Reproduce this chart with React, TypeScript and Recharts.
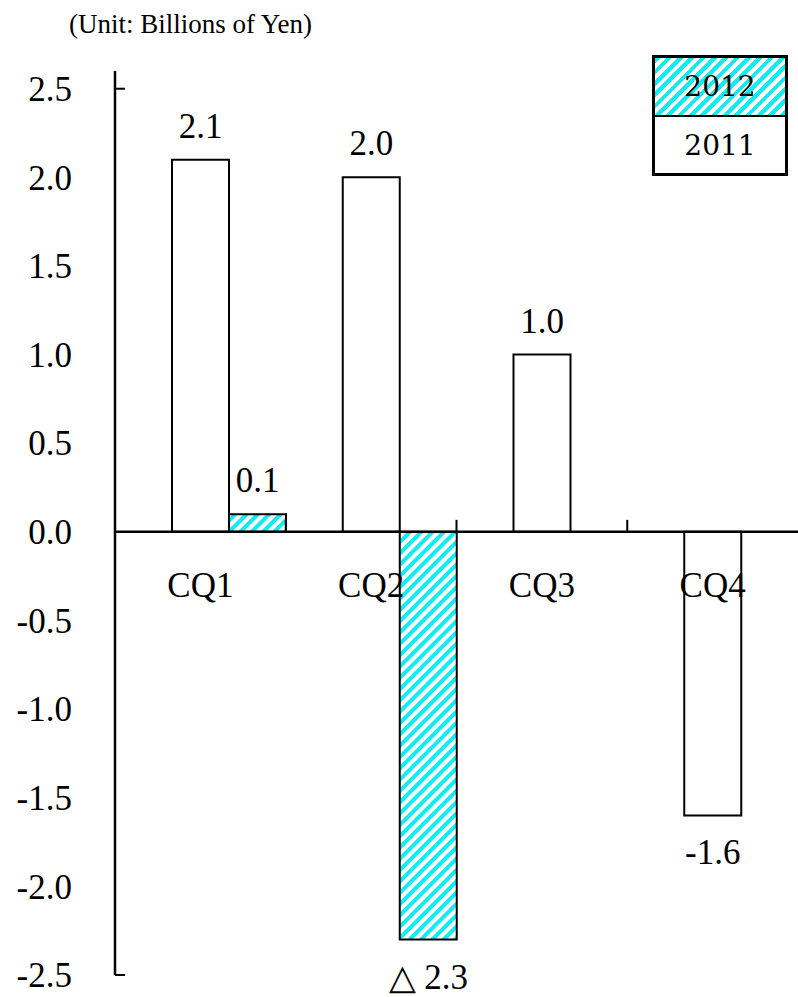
import { BarChart, Bar, XAxis, YAxis, ReferenceLine, LabelList } from 'recharts';

const categories = ['CQ1', 'CQ2', 'CQ3', 'CQ4'];
const values2011 = [2.1, 2.0, 1.0, -1.6];
const values2012: (number | null)[] = [0.1, -2.3, null, null];
const yTicks = [-2.5, -2.0, -1.5, -1.0, -0.5, 0.0, 0.5, 1.0, 1.5, 2.0, 2.5];

const data = categories.map((name, i) => ({
  name,
  y2011: values2011[i],
  y2012: values2012[i],
}));

const WIDTH = 798;
const HEIGHT = 997;
const TOP = 71;
const BOTTOM = 21;
const X_AXIS_H = 1;
const AXIS_W = 115;
const Y_MIN = -2.5;
const Y_MAX = 2.6;
// where the zero line sits, used to hang category labels under it
const ZERO_Y = TOP + ((HEIGHT - TOP - BOTTOM - X_AXIS_H) * Y_MAX) / (Y_MAX - Y_MIN);

const SERIF = '"Liberation Serif", "Times New Roman", serif';
const CYAN = '#10ecf4';
const Y_MARGIN = 43;

function YTick(props: any) {
  const { x, y, payload } = props;
  const v = Number(payload.value);
  const end = Math.abs(v) === 2.5;
  return (
    <g>
      <text x={x} y={y} dy="0.35em" textAnchor="end" fontFamily={SERIF} fontSize={35} fill="#000">
        {v.toFixed(1)}
      </text>
      {end && (
        <line x1={x + Y_MARGIN} x2={x + Y_MARGIN + 10} y1={y} y2={y} stroke="#000" strokeWidth={2} />
      )}
    </g>
  );
}

function XTick(props: any) {
  const { x, payload, index } = props;
  const half = payload.offset ?? (WIDTH - AXIS_W) / categories.length / 2;
  return (
    <g>
      <text x={x} y={ZERO_Y + 65} textAnchor="middle" fontFamily={SERIF} fontSize={35} fill="#000">
        {payload.value}
      </text>
      {index < categories.length - 1 && (
        <line x1={x + half} x2={x + half} y1={ZERO_Y - 12} y2={ZERO_Y} stroke="#000" strokeWidth={2} />
      )}
    </g>
  );
}

// value labels: above positive bars, below negative ones
const makeLabel = (negPrefix: string) => (props: any) => {
  const { x, y, width, height, value } = props;
  if (value == null) return null;
  const top = Math.min(y, y + height);
  const bottom = Math.max(y, y + height);
  const v = Number(value);
  const text = v < 0 ? negPrefix + Math.abs(v).toFixed(1) : v.toFixed(1);
  return (
    <text
      x={x + width / 2}
      y={v < 0 ? bottom + 49 : top - 22}
      textAnchor="middle"
      fontFamily={SERIF}
      fontSize={35}
      fill="#000"
    >
      {text}
    </text>
  );
};

function LegendBox() {
  const rows = [
    { label: '2012', bg: `repeating-linear-gradient(135deg, ${CYAN} 0 4px, #fff 4px 8px)`, h: 57 },
    { label: '2011', bg: '#fff', h: 56 },
  ];
  return (
    <div
      style={{
        position: 'absolute',
        left: 652,
        top: 55,
        width: 130,
        border: '3px solid #000',
        fontFamily: '"DejaVu Serif", serif',
        fontSize: 28,
        background: '#fff',
      }}
    >
      {rows.map((r, i) => (
        <div
          key={r.label}
          style={{
            height: r.h,
            borderTop: i ? '2px solid #000' : 'none',
            background: r.bg,
            display: 'flex',
            alignItems: 'center',
            justifyContent: 'center',
          }}
        >
          {r.label}
        </div>
      ))}
    </div>
  );
}

export default function App() {
  return (
    <div style={{ position: 'absolute', left: 0, top: 0, width: WIDTH, height: HEIGHT, background: '#fff' }}>
      <div
        style={{
          position: 'absolute',
          left: 69,
          top: 11,
          fontFamily: SERIF,
          fontSize: 27,
          lineHeight: 1,
          whiteSpace: 'nowrap',
        }}
      >
        (Unit: Billions of Yen)
      </div>
      <BarChart
        width={WIDTH}
        height={HEIGHT}
        data={data}
        margin={{ top: TOP, right: 0, bottom: BOTTOM, left: 0 }}
        barCategoryGap={0}
        barGap={0}
      >
        <defs>
          <pattern id="hatch" patternUnits="userSpaceOnUse" width="8" height="8" patternTransform="rotate(45)">
            <rect width="8" height="8" fill="#fff" />
            <rect width="4" height="8" fill={CYAN} />
          </pattern>
        </defs>
        {/* empty slot so each year pair sits right of the band centre */}
        <Bar dataKey="spacer" fill="none" legendType="none" isAnimationActive={false} />
        <Bar dataKey="y2011" name="2011" fill="#fff" stroke="#000" strokeWidth={2} isAnimationActive={false}>
          <LabelList dataKey="y2011" content={makeLabel('-')} />
        </Bar>
        <Bar dataKey="y2012" name="2012" fill="url(#hatch)" stroke="#000" strokeWidth={2} isAnimationActive={false}>
          <LabelList dataKey="y2012" content={makeLabel('\u25B3 ')} />
        </Bar>
        <ReferenceLine y={0} stroke="#000" strokeWidth={2.5} />
        <XAxis
          dataKey="name"
          height={X_AXIS_H}
          axisLine={false}
          tickLine={false}
          tickSize={0}
          tickMargin={0}
          tick={<XTick />}
          interval={0}
        />
        <YAxis
          width={AXIS_W}
          domain={[Y_MIN, Y_MAX]}
          allowDataOverflow
          ticks={yTicks}
          interval={0}
          axisLine={{ stroke: '#000', strokeWidth: 2.5 }}
          tickLine={false}
          tickSize={0}
          tickMargin={Y_MARGIN}
          tick={<YTick />}
        />
      </BarChart>
      <LegendBox />
    </div>
  );
}
